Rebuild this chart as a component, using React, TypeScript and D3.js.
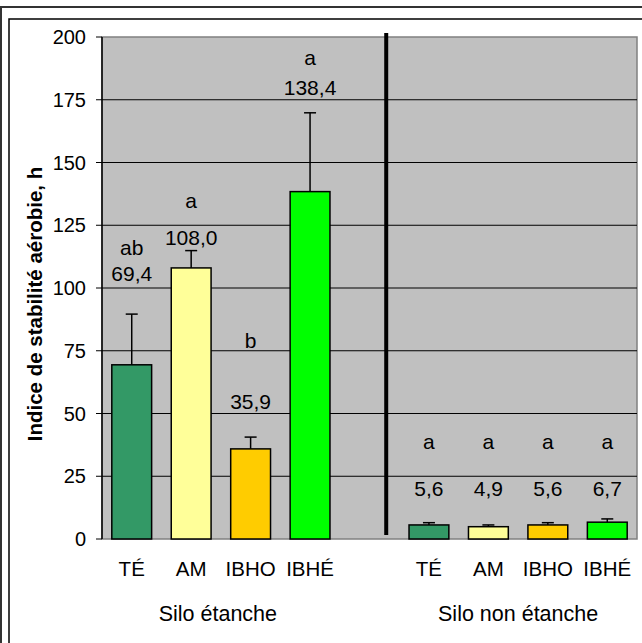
import React from 'react';
import * as d3 from 'd3';

// treatments and silo groups
const treatments = ['TÉ', 'AM', 'IBHO', 'IBHÉ'];
const groups = ['Silo étanche', 'Silo non étanche'];
const colors = ['#339966', '#FFFF99', '#FFCC00', '#00FF00'];

// aerobic stability (h) and upper error
const sealedMeans = [69.4, 108.0, 35.9, 138.4];
const sealedErr = [20.2, 6.9, 4.7, 31.4];
const sealedLetters = ['ab', 'a', 'b', 'a'];
const unsealedMeans = [5.6, 4.9, 5.6, 6.7];
const unsealedErr = [0.9, 0.7, 0.9, 1.3];
const unsealedLetters = ['a', 'a', 'a', 'a'];

// heights (in h) where the annotation labels sit
const sealedLetterAt = [116, 135, 79, 192];
const sealedValueAt = [106, 120, 55, 180];
const unsealedLetterAt = [39, 39, 39, 39];
const unsealedValueAt = [20, 20, 20, 20];

const yTicks = [0, 25, 50, 75, 100, 125, 150, 175, 200];

const W = 642;
const H = 643;
const font = '"Liberation Sans", Arial, sans-serif';

export default function App() {
  const left = 102, right = 637, top = 37, bottom = 539;

  const keys = [
    ...treatments.map((t) => 'S-' + t),
    'gap',
    ...treatments.map((t) => 'N-' + t),
  ];
  const x = d3.scaleBand().domain(keys).range([left, right]).paddingInner(0.33).paddingOuter(0.165);
  const y = d3.scaleLinear().domain([0, 200]).range([bottom, top]);

  const bars = [
    ...treatments.map((t, i) => ({
      key: 'S-' + t, label: t, v: sealedMeans[i], e: sealedErr[i], letter: sealedLetters[i],
      la: sealedLetterAt[i], va: sealedValueAt[i], color: colors[i],
    })),
    ...treatments.map((t, i) => ({
      key: 'N-' + t, label: t, v: unsealedMeans[i], e: unsealedErr[i], letter: unsealedLetters[i],
      la: unsealedLetterAt[i], va: unsealedValueAt[i], color: colors[i],
    })),
  ];

  const bw = x.bandwidth();
  const cx = (k: string) => (x(k) as number) + bw / 2;
  const fmt = (v: number) => v.toFixed(1).replace('.', ',');
  const groupCenter = (prefix: string) =>
    d3.mean(treatments.map((t) => cx(prefix + t))) as number;
  const dividerX = ((x('gap') as number) + bw / 2 + cx('N-' + treatments[0])) / 2 - 13;

  return (
    <svg width={W} height={H} style={{ position: 'absolute', left: 0, top: 0, background: '#fff' }}
      fontFamily={font}>
      <rect x={1} y={7} width={900} height={900} fill="#fff" stroke="#333" strokeWidth={2} />
      <rect x={9} y={19} width={900} height={900} fill="#fff" stroke="#000" strokeWidth={1.5} />

      <rect x={left} y={top} width={right - left} height={bottom - top} fill="#C0C0C0"
        stroke="#808080" strokeWidth={1.5} />
      {yTicks.filter((t) => t > 0 && t < 200).map((t) => (
        <line key={t} x1={left} x2={right} y1={y(t)} y2={y(t)} stroke="#000" strokeWidth={1} />
      ))}

      {yTicks.map((t) => (
        <g key={'t' + t}>
          <line x1={left - 6} x2={left} y1={y(t)} y2={y(t)} stroke="#000" strokeWidth={1} />
          <text x={86} y={y(t)} dy="0.36em" textAnchor="end" fontSize={20}>{t}</text>
        </g>
      ))}
      <line x1={left} x2={left} y1={top} y2={bottom} stroke="#000" strokeWidth={1.5} />

      <line x1={dividerX} x2={dividerX} y1={top - 4} y2={bottom - 4} stroke="#000" strokeWidth={4} />

      {bars.map((b) => {
        const c = cx(b.key);
        const et = y(b.v + b.e);
        return (
          <g key={b.key}>
            <line x1={c} x2={c} y1={y(b.v)} y2={et} stroke="#000" strokeWidth={1.5} />
            <line x1={c - 6} x2={c + 6} y1={et} y2={et} stroke="#000" strokeWidth={1.5} />
            <rect x={x(b.key)} y={y(b.v)} width={bw} height={y(0) - y(b.v)} fill={b.color}
              stroke="#000" strokeWidth={1.5} />
            <text x={c} y={y(b.la)} dy="0.36em" textAnchor="middle" fontSize={21}>{b.letter}</text>
            <text x={c} y={y(b.va)} dy="0.36em" textAnchor="middle" fontSize={21}>{fmt(b.v)}</text>
            <text x={c} y={569} dy="0.36em" textAnchor="middle" fontSize={20.5}>{b.label}</text>
          </g>
        );
      })}

      <text x={groupCenter('S-') - 3} y={613} dy="0.36em" textAnchor="middle" fontSize={21.5}>{groups[0]}</text>
      <text x={groupCenter('N-')} y={613} dy="0.36em" textAnchor="middle" fontSize={21.5}>{groups[1]}</text>

      <text transform={`translate(35,${(top + bottom) / 2 + 16}) rotate(-90)`} dy="0.36em"
        textAnchor="middle" fontSize={20.5} fontWeight="bold">
        Indice de stabilité aérobie, h
      </text>
    </svg>
  );
}
